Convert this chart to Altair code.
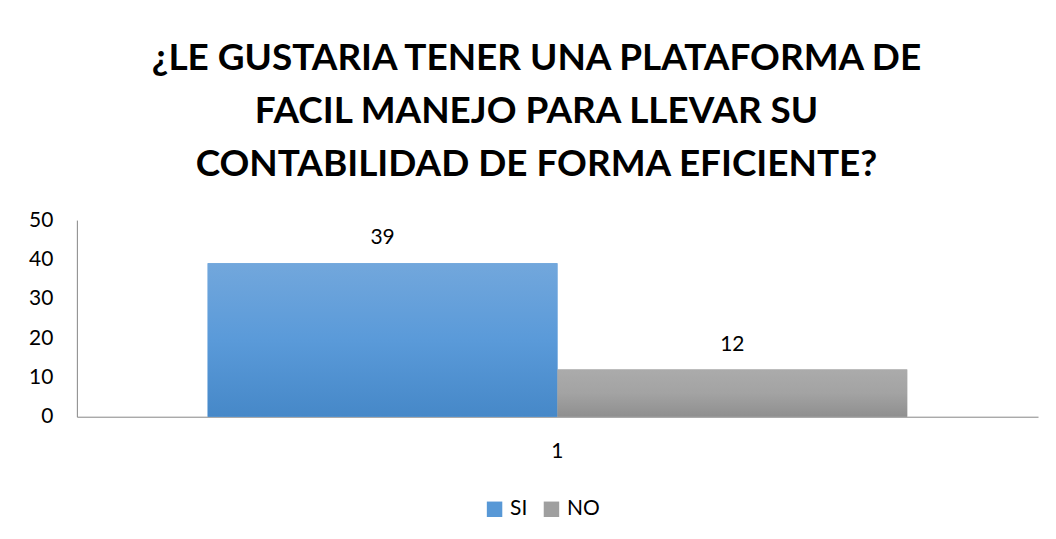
import altair as alt
import pandas as pd

categories = ["1", "1"]
series = ["SI", "NO"]
values = [39, 12]
title_lines = ["¿LE GUSTARIA TENER UNA PLATAFORMA DE", "FACIL MANEJO PARA LLEVAR SU", "CONTABILIDAD DE FORMA EFICIENTE?"]

df = pd.DataFrame({"cat": categories, "series": series, "value": values})

FONT = "Lato"

x_enc = alt.X("cat:N", title=None,
              scale=alt.Scale(paddingInner=0, paddingOuter=0.187),
              axis=alt.Axis(labelAngle=0, ticks=False, domainColor="#868686",
                            labelFontSize=21, labelColor="#000000", labelPadding=24,
                            labelFont=FONT, grid=False))
xoff = alt.XOffset("series:N", scale=alt.Scale(domain=series, paddingInner=0, paddingOuter=0))
y_enc = alt.Y("value:Q", title=None,
              scale=alt.Scale(domain=[0, 50]),
              axis=alt.Axis(values=[0, 10, 20, 30, 40, 50], ticks=False, grid=False,
                            domainColor="#868686", labelFontSize=21, labelColor="#000000",
                            labelPadding=24, labelFont=FONT))

base = alt.Chart(df)

flat = base.mark_bar().encode(
    x=x_enc, xOffset=xoff, y=y_enc,
    color=alt.Color("series:N", scale=alt.Scale(domain=series, range=["#5898d6", "#9f9f9f"]),
                    legend=alt.Legend(title=None, orient="none", direction="horizontal",
                                      legendX=408, legendY=279, symbolType="square",
                                      symbolSize=240, labelFontSize=21, labelFont=FONT,
                                      labelColor="#000000", columnPadding=13,
                                      symbolStrokeWidth=0, labelOffset=5))
)

grad_si = alt.LinearGradient(gradient="linear", x1=0, x2=0, y1=0, y2=1,
                             stops=[alt.GradientStop(color="#72a7dc", offset=0),
                                    alt.GradientStop(color="#5a9ad9", offset=0.5),
                                    alt.GradientStop(color="#4688c8", offset=1)])
grad_no = alt.LinearGradient(gradient="linear", x1=0, x2=0, y1=0, y2=1,
                             stops=[alt.GradientStop(color="#ababab", offset=0),
                                    alt.GradientStop(color="#a3a3a3", offset=0.5),
                                    alt.GradientStop(color="#8f8f8f", offset=1)])

si = base.mark_bar(color=grad_si).encode(x=x_enc, xOffset=xoff, y=y_enc).transform_filter(alt.datum.series == "SI")
no = base.mark_bar(color=grad_no).encode(x=x_enc, xOffset=xoff, y=y_enc).transform_filter(alt.datum.series == "NO")

labels = base.mark_text(dy=-25, fontSize=21, font=FONT, color="#000000").encode(
    x=x_enc, xOffset=xoff, y=y_enc, text="value:Q")

chart = alt.layer(flat, si, no, labels).properties(
    width=963, height=197,
    autosize=alt.AutoSizeParams(type="none"),
    padding={"left": 69, "top": 212, "right": 10, "bottom": 110},
    title=alt.TitleParams(text=title_lines, fontSize=37, font=FONT, fontWeight="bold",
                          color="#000000", anchor="middle", dx=-21, lineHeight=53,
                          offset=25),
).configure_view(stroke=None)

chart.save("out.html", embed_options={"renderer": "svg", "actions": False})
